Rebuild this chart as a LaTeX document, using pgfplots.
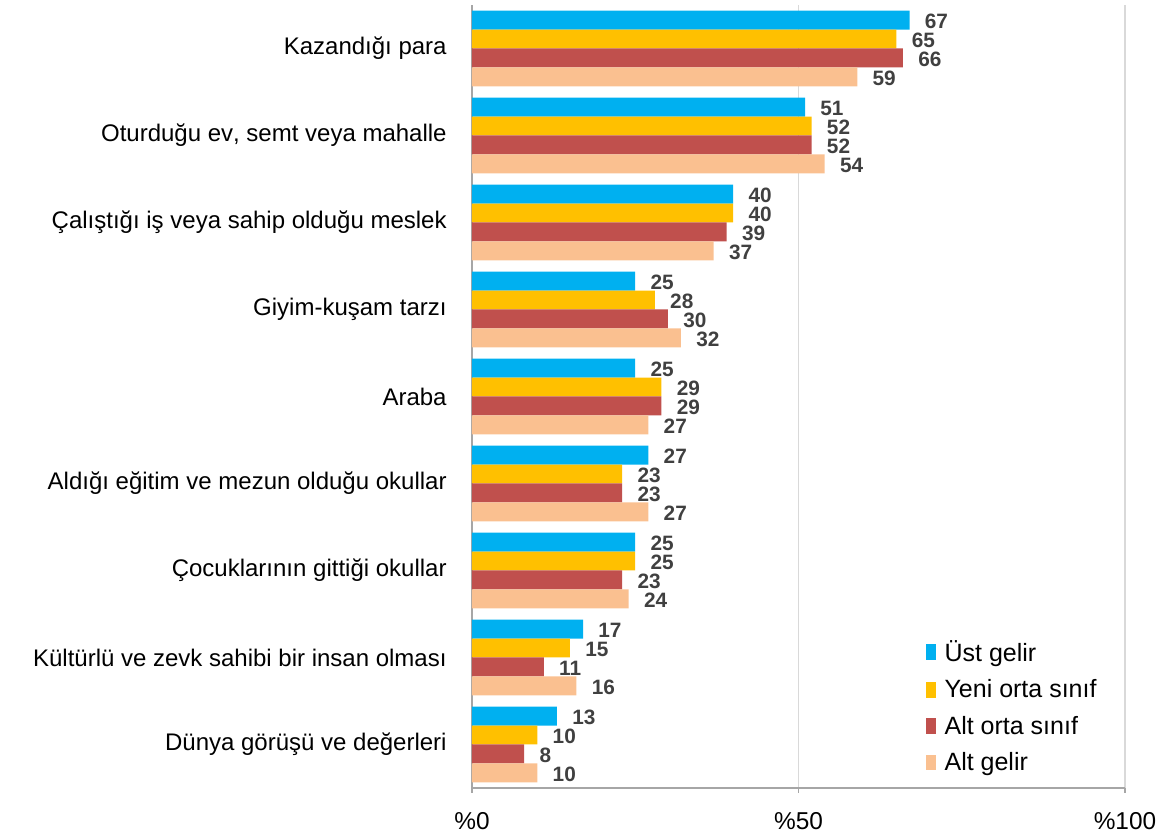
\documentclass[border=0pt]{standalone}
\usepackage{pgfplots}
\pgfplotsset{compat=1.18}
\usepackage{fontspec}
\setmainfont{Liberation Sans}
\usetikzlibrary{calc}
\definecolor{cUst}{HTML}{00B0F0}
\definecolor{cYeni}{HTML}{FFC000}
\definecolor{cAltOrta}{HTML}{C0504D}
\definecolor{cAltGelir}{HTML}{FAC090}
\definecolor{lblgray}{HTML}{404040}
\definecolor{gridgray}{HTML}{D9D9D9}
\definecolor{axgray}{HTML}{A6A6A6}
\begin{document}
\begin{tikzpicture}
\begin{axis}[
  scale only axis,
  width=326.5pt, height=391.5pt,
  xbar, bar width=0.218,
  xmin=0, xmax=100, ymin=-0.5, ymax=8.5,
  axis x line*=bottom, axis y line*=left,
  axis line style={draw=axgray, line width=0.9pt},
  xtick={0,50,100}, xticklabels={\%0,\%50,\%100},
  tick align=outside, major tick length=2.5pt,
  xtick style={draw=axgray, line width=0.9pt},
  ytick={0,...,8},
  yticklabels={Dünya görüşü ve değerleri, Kültürlü ve zevk sahibi bir insan olması, Çocuklarının gittiği okullar, Aldığı eğitim ve mezun olduğu okullar, Araba, Giyim-kuşam tarzı, Çalıştığı iş veya sahip olduğu meslek, Oturduğu ev\mbox{,} semt veya mahalle, Kazandığı para},
  ytick style={draw=none},
  y tick label style={font=\fontsize{12}{14}\selectfont, inner sep=0pt, xshift=-10pt},
  x tick label style={font=\fontsize{12.2}{14}\selectfont, inner sep=0pt, yshift=-9.5pt},
  xmajorgrids, grid style={draw=gridgray, line width=0.8pt},
  /pgf/number format/assume math mode=true,
  nodes near coords,
  nodes near coords style={font=\bfseries\fontsize{10.4}{11}\selectfont, text=lblgray, anchor=west, inner sep=0pt, xshift=7.5pt, yshift=-0.8pt},
  legend cell align=left,
  legend style={draw=none, fill=none, at={(0.694,0.194)}, anchor=north west, inner sep=0pt, row sep=3.6pt, font=\fontsize{12.5}{14}\selectfont,
    /tikz/every odd column/.append style={column sep=2.5pt}},
  legend image code/.code={\fill[#1,draw=none] (0pt,-3.8pt) rectangle (5pt,4pt);},
]
\addplot[fill=cUst, draw=none, bar shift=0.327] coordinates {(67,8) (51,7) (40,6) (25,5) (25,4) (27,3) (25,2) (17,1) (13,0)};
\addplot[fill=cYeni, draw=none, bar shift=0.109] coordinates {(65,8) (52,7) (40,6) (28,5) (29,4) (23,3) (25,2) (15,1) (10,0)};
\addplot[fill=cAltOrta, draw=none, bar shift=-0.109] coordinates {(66,8) (52,7) (39,6) (30,5) (29,4) (23,3) (23,2) (11,1) (8,0)};
\addplot[fill=cAltGelir, draw=none, bar shift=-0.327] coordinates {(59,8) (54,7) (37,6) (32,5) (27,4) (27,3) (24,2) (16,1) (10,0)};
\legend{Üst gelir, Yeni orta sınıf, Alt orta sınıf, Alt gelir}
\end{axis}
\pgfresetboundingbox
\path[use as bounding box] ($(current axis.south west)+(-236pt,-24pt)$) rectangle ($(current axis.north east)+(24.5pt,2.5pt)$);
\end{tikzpicture}
\end{document}
